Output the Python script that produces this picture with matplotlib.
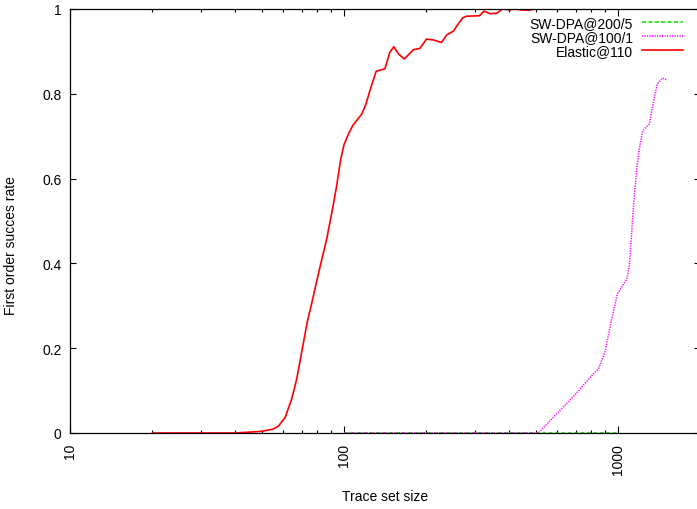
import matplotlib
matplotlib.use("Agg")
import matplotlib.pyplot as plt
from matplotlib.ticker import LogLocator, FixedLocator, NullFormatter

plt.rcParams['font.family'] = ['Liberation Sans', 'DejaVu Sans']
plt.rcParams['lines.scale_dashes'] = False

# ---- data ----
sw200_x = [100, 150, 200, 300, 400, 500, 600, 700, 800, 900, 1000]
sw200_y = [0, 0, 0, 0, 0, 0, 0, 0, 0, 0, 0]

sw100_x = [100, 200, 300, 400, 512, 597, 697, 801, 848, 897, 948, 995,
           1077, 1100, 1137, 1170, 1196, 1231, 1301, 1346, 1391, 1451, 1504]
sw100_y = [0, 0, 0, 0, 0, 0.045, 0.09, 0.135, 0.151, 0.192, 0.269, 0.328,
           0.363, 0.395, 0.528, 0.623, 0.67, 0.713, 0.729, 0.78, 0.823, 0.837, 0.833]

el_x = [20, 30, 40, 45, 50, 55, 57.6, 61, 64.4, 67.2, 70.4, 73.4, 76.5, 80.6,
        86.5, 91, 94, 97.3, 100, 103.8, 107.6, 116, 120, 126, 131, 141, 147,
        152, 158, 166, 179, 189, 200, 212, 227, 237, 251, 258, 271, 280, 312,
        324, 341, 361, 379, 404, 421, 439, 471, 498]
el_y = [0, 0, 0, 0.002, 0.004, 0.009, 0.016, 0.037, 0.08, 0.127, 0.198, 0.261,
        0.31, 0.375, 0.458, 0.532, 0.583, 0.646, 0.68, 0.705, 0.725, 0.752,
        0.774, 0.82, 0.853, 0.859, 0.898, 0.911, 0.894, 0.882, 0.904, 0.907,
        0.929, 0.927, 0.921, 0.939, 0.948, 0.96, 0.979, 0.983, 0.984, 0.995,
        0.989, 0.99, 1.0, 0.998, 1.0, 0.998, 0.997, 1.0]

labels = ["SW-DPA@200/5", "SW-DPA@100/1", "Elastic@110"]
x_ticks = [10, 100, 1000]
x_ticklabels = ["10", "100", "1000"]
y_ticks = [0, 0.2, 0.4, 0.6, 0.8, 1.0]
y_ticklabels = ["0", "0.2", "0.4", "0.6", "0.8", "1"]

W, H = 697, 510
fig = plt.figure(figsize=(W / 100, H / 100), dpi=100)
L, R, T, B = 70, 700.5, 10, 434
ax = fig.add_axes([L / W, 1 - B / H, (R - L) / W, (B - T) / H])

ax.plot(sw200_x, sw200_y, color='#00e000', lw=1.1, ls=(0, (3, 1.6)), label=labels[0])
ax.plot(sw100_x, sw100_y, color='#ff00ff', lw=1.1, ls=(0, (0.9, 0.9)), label=labels[1])
ax.plot(el_x, el_y, color='#ff0000', lw=1.2, label=labels[2])

ax.set_xscale('log')
ax.set_xlim(10, 2000)
ax.set_ylim(0, 1)

ax.xaxis.set_major_locator(FixedLocator(x_ticks))
ax.set_xticklabels(x_ticklabels, rotation=90, ha='center', va='top')
ax.xaxis.set_minor_locator(LogLocator(base=10, subs=range(2, 10)))
ax.xaxis.set_minor_formatter(NullFormatter())
ax.set_yticks(y_ticks)
ax.set_yticklabels(y_ticklabels)

ax.tick_params(which='both', direction='in', top=True, right=True, labelsize=10,
               width=0.8, colors='black')
ax.tick_params(axis='x', which='major', length=5, pad=7)
ax.tick_params(axis='x', which='minor', length=2.5)
ax.tick_params(axis='y', which='major', length=4.5, pad=6)

for s in ax.spines.values():
    s.set_linewidth(0.9)

ax.set_xlabel("Trace set size", fontsize=10)
ax.xaxis.set_label_coords(0.5, -(497 - B) / (B - T))
ax.xaxis.label.set_va('center')
ax.set_ylabel("First order succes rate", fontsize=10)
ax.yaxis.set_label_coords(-(L - 11) / (R - L), (B - 246) / (B - T))
ax.yaxis.label.set_va('center')

leg = ax.legend(loc='upper right', bbox_to_anchor=(683 / W, 1 - 17 / H),
                bbox_transform=fig.transFigure, frameon=False, markerfirst=False,
                fontsize=10, handlelength=2.95, handletextpad=0.65,
                labelspacing=0.0, borderpad=0, borderaxespad=0)

fig.savefig("out.png", dpi=100)
